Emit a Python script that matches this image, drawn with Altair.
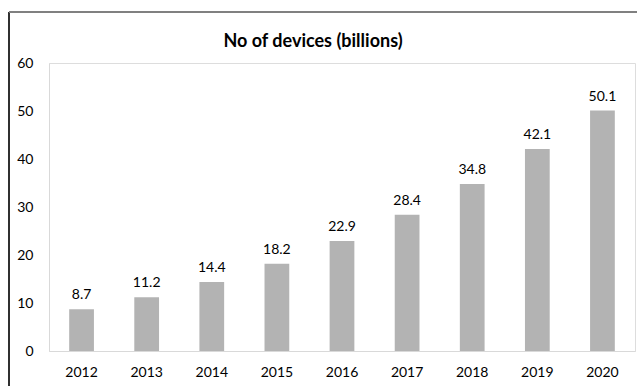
import altair as alt
import pandas as pd

years = ["2012", "2013", "2014", "2015", "2016", "2017", "2018", "2019", "2020"]
devices = [8.7, 11.2, 14.4, 18.2, 22.9, 28.4, 34.8, 42.1, 50.1]
y_ticks = [0, 10, 20, 30, 40, 50, 60]
title_text = "No of devices (billions)"

df = pd.DataFrame({"year": years, "devices": devices})

W, H = 586, 288
FONT = "Lato"

x = alt.X("year:N", sort=years, title=None,
          scale=alt.Scale(paddingInner=0.62, paddingOuter=0.31),
          axis=alt.Axis(labelAngle=0, ticks=False, labelPadding=14, labelFontSize=14,
                        labelColor="#000000", labelFont=FONT, domainColor="#d9d9d9"))
y = alt.Y("devices:Q", title=None,
          scale=alt.Scale(domain=[0, 60], nice=False),
          axis=alt.Axis(values=y_ticks, ticks=False, grid=False, labelPadding=16,
                        labelFontSize=14, labelColor="#000000", labelFont=FONT,
                        domainColor="#d9d9d9"))

base = alt.Chart(df)
bars = base.mark_bar(color="#b3b3b3").encode(x=x, y=y)
labels = base.mark_text(dy=-7, baseline="bottom", fontSize=14, font=FONT, color="#000000").encode(
    x=alt.X("year:N", sort=years), y="devices:Q", text=alt.Text("devices:Q", format=".1f"))

frame_left = alt.Chart(df).mark_rule(color="#303030", strokeWidth=1).encode(
    x=alt.value(-40), y=alt.value(-51), y2=alt.value(H + 60))
frame_top = alt.Chart(df).mark_rule(color="#808080", strokeWidth=1.5).encode(
    x=alt.value(-40), x2=alt.value(W + 20), y=alt.value(-51))
title = alt.Chart(pd.DataFrame({"t": [title_text]})).mark_text(
    fontSize=18, font=FONT, fontWeight="bold", color="#000000", baseline="middle", align="center"
).encode(x=alt.value(264), y=alt.value(-21), text="t:N")

chart = alt.layer(frame_left, frame_top, bars, labels, title).properties(
    width=W, height=H,
    padding={"left": 49, "top": 63, "right": 2, "bottom": 35},
    autosize=alt.AutoSizeParams(type="none"),
).configure_view(stroke=None).configure(background="white")

chart.save("out.html", embed_options={"renderer": "svg", "actions": False})
